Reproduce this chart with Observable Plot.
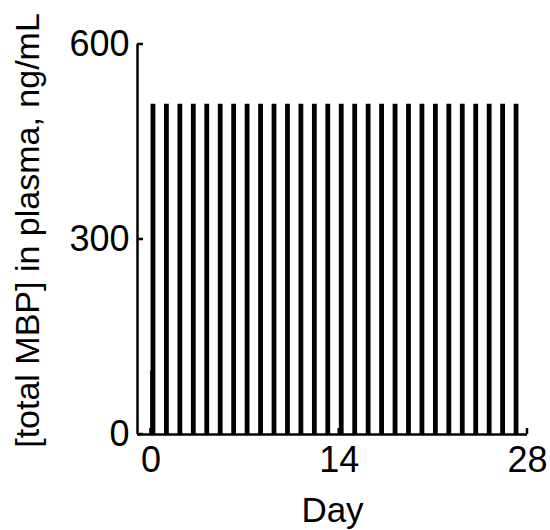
<!DOCTYPE html>
<html>
<head>
<meta charset="utf-8">
<script src="https://cdn.jsdelivr.net/npm/d3@7"></script>
<script src="https://cdn.jsdelivr.net/npm/@observablehq/plot@0.6"></script>
<style>
  html, body { margin: 0; padding: 0; background: #fff; }
  svg { font-family: "Liberation Sans", Arial, sans-serif; }
</style>
</head>
<body>
<div id="chart"></div>
<script>
// Peak times (day) and peak concentrations (ng/mL) of the daily dosing spikes
const peakDays = [0.15, 1.15, 2.15, 3.15, 4.15, 5.15, 6.15, 7.15, 8.15, 9.15,
                  10.15, 11.15, 12.15, 13.15, 14.15, 15.15, 16.15, 17.15, 18.15, 19.15,
                  20.15, 21.15, 22.15, 23.15, 24.15, 25.15, 26.15, 27.15];
const peakConc = [508, 508, 508, 508, 508, 508, 508, 508, 508, 508,
                  508, 508, 508, 508, 508, 508, 508, 508, 508, 508,
                  508, 508, 508, 508, 508, 508, 508, 508];
// small initial rise at day 0
const initialDay = [0.02];
const initialConc = [98];

const xTicks = [0, 14, 28];
const yTicks = [0, 300, 600];
const xDomain = [-1, 28];
const yDomain = [0, 600];
const xLabel = "Day";
const yLabel = "[total MBP] in plasma, ng/mL";

const spikes = peakDays.map((d, i) => ({day: d, conc: peakConc[i]}));
const initial = initialDay.map((d, i) => ({day: d, conc: initialConc[i]}));

const FS = 36;

// inward tick marks drawn with the plot's scales
function inwardTicks(index, scales, values, dims) {
  const g = d3.create("svg:g").attr("stroke", "black").attr("stroke-width", 2.5).attr("fill", "none");
  const x0 = scales.x(xDomain[0]);
  const y0 = scales.y(yDomain[0]);
  for (const t of yTicks) {
    g.append("line").attr("x1", x0).attr("x2", x0 + 6).attr("y1", scales.y(t)).attr("y2", scales.y(t));
  }
  for (const t of xTicks) {
    g.append("line").attr("x1", scales.x(t)).attr("x2", scales.x(t)).attr("y1", y0).attr("y2", y0 - 6);
  }
  return g.node();
}

const chart = Plot.plot({
  width: 550,
  height: 530,
  marginLeft: 137,
  marginRight: 23,
  marginTop: 44,
  marginBottom: 96,
  style: {fontFamily: "'Liberation Sans', Arial, sans-serif", fontSize: FS + "px", color: "black", background: "white"},
  x: {domain: xDomain},
  y: {domain: yDomain},
  marks: [
    Plot.ruleX(spikes, {x: "day", y1: 0, y2: "conc", stroke: "black", strokeWidth: 4.8}),
    Plot.ruleX(initial, {x: "day", y1: 0, y2: "conc", stroke: "black", strokeWidth: 2}),
    Plot.ruleX([xDomain[0]], {y1: yDomain[0], y2: yDomain[1], stroke: "black", strokeWidth: 2.5}),
    Plot.ruleY([yDomain[0]], {x1: xDomain[0], x2: xDomain[1], stroke: "black", strokeWidth: 2.5}),
    inwardTicks,
    Plot.axisX(xTicks, {tickSize: 0, tickPadding: 12, fontSize: FS, label: null}),
    Plot.axisY(yTicks, {tickSize: 0, tickPadding: 8, fontSize: FS, label: null}),
    Plot.text([xLabel], {frameAnchor: "bottom", dy: 76, fontSize: 35, lineAnchor: "middle", textAnchor: "middle"}),
    Plot.text([yLabel], {frameAnchor: "left", dx: -109, dy: -9, rotate: -90, fontSize: 34, lineAnchor: "middle", textAnchor: "middle"})
  ]
});
document.getElementById("chart").appendChild(chart);
</script>
</body>
</html>
